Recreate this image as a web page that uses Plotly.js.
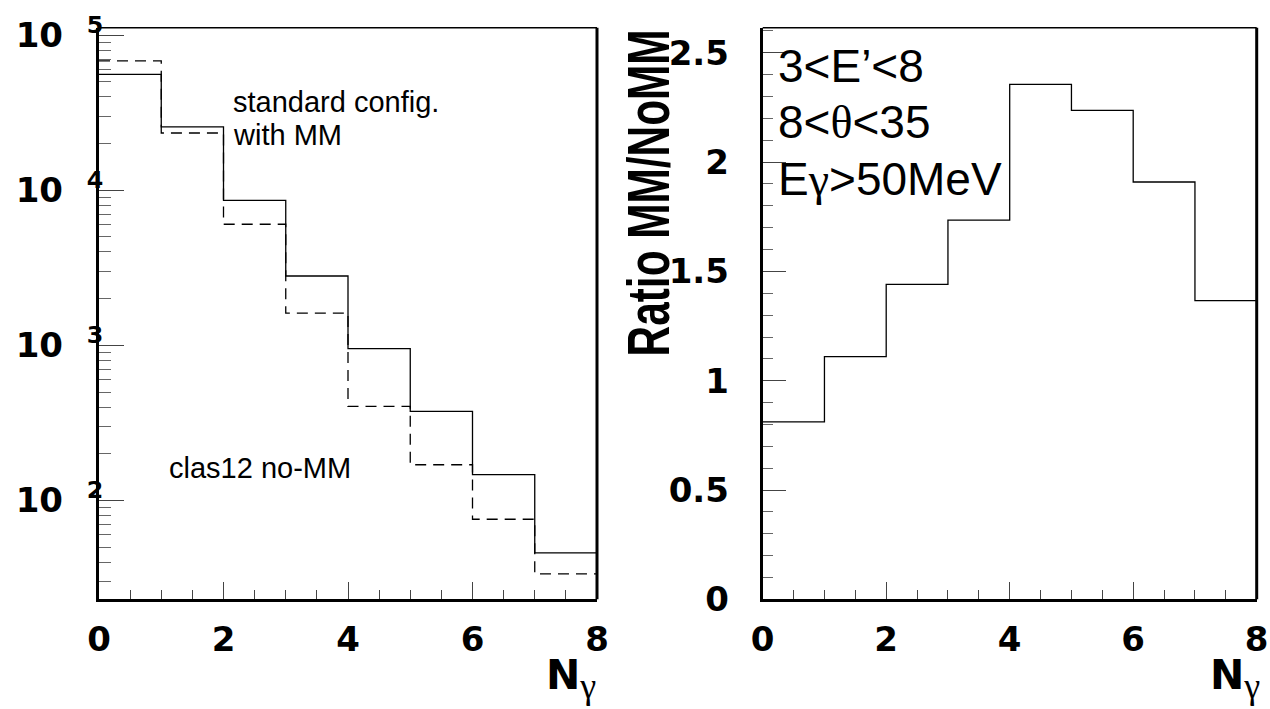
<!DOCTYPE html>
<html>
<head>
<meta charset="utf-8">
<script src="https://cdn.plot.ly/plotly-3.0.1.min.js"></script>
<style>
  html, body { margin: 0; padding: 0; background: #fff; }
  #plot { width: 1270px; height: 709px; }
</style>
</head>
<body>
<div id="plot"></div>
<script>
// Photon multiplicity bins (edges) and contents
const binEdges = [0, 1, 2, 3, 4, 5, 6, 7, 8];
const countsWithMM = [55800, 25600, 8610, 2800, 952, 375, 147, 45.9];
const countsNoMM = [68200, 23400, 6040, 1615, 404, 170, 75.7, 33.6];
const ratioMMNoMM = [0.812, 1.110, 1.441, 1.735, 2.356, 2.237, 1.909, 1.366];

// Log axis decade labels
const decadeVals = [1e2, 1e3, 1e4, 1e5];
const decadeExp = [2, 3, 4, 5];
const decadeText = decadeExp.map(e => '10&nbsp; <sup><b>' + e + '</b></sup>');

// Minor tick positions for the log axis: 2..9 within each decade
const minorLogTicks = [];
[1e1, 1e2, 1e3, 1e4].forEach(d => { for (let k = 2; k <= 9; k++) minorLogTicks.push(k * d); });

// histogram step helper: repeat the last content so the last bin is closed at the upper edge
function stepY(vals) { return vals.concat([vals[vals.length - 1]]); }

const W = 1270, H = 709;
const px = x => x / W;
const py = y => 1 - y / H;

const tickFont = { family: 'DejaVu Sans', size: 34, color: 'black', weight: 'bold' };
const textFont = { family: 'Liberation Sans, Arial, sans-serif', color: 'black' };
const serif = s => '<span style="font-family:\'Liberation Serif\', serif">' + s + '</span>';
const subGamma = '<sub><span style="font-family:\'Liberation Serif\', serif;font-weight:normal;font-size:36px">γ</span></sub>';

const traces = [
  {
    x: binEdges, y: stepY(countsNoMM), xaxis: 'x', yaxis: 'y',
    mode: 'lines', line: { shape: 'hv', color: 'black', width: 1.3, dash: '11px,7px' },
    name: 'clas12 no-MM', hoverinfo: 'skip'
  },
  {
    x: binEdges, y: stepY(countsWithMM), xaxis: 'x', yaxis: 'y',
    mode: 'lines', line: { shape: 'hv', color: 'black', width: 1.3 },
    name: 'standard config. with MM', hoverinfo: 'skip'
  },
  {
    x: binEdges, y: stepY(ratioMMNoMM), xaxis: 'x2', yaxis: 'y2',
    mode: 'lines', line: { shape: 'hv', color: 'black', width: 1.3 },
    name: 'Ratio MM/NoMM', hoverinfo: 'skip'
  }
];

const yTop = 27.7, yBot = 599.3;

function xAxis(domain, anchor) {
  return {
    domain: domain, anchor: anchor, range: [0, 8],
    showline: true, linewidth: 3, linecolor: 'black',
    showgrid: false, zeroline: false,
    tickmode: 'linear', tick0: 0, dtick: 2,
    ticks: 'inside', ticklen: 17, tickwidth: 1, tickcolor: '#444',
    minor: { ticks: 'inside', ticklen: 9, tickwidth: 1, tickcolor: '#444', tick0: 0, dtick: 0.5 },
    tickfont: tickFont, ticklabelstandoff: 8
  };
}

const layout = {
  width: W, height: H,
  margin: { l: 0, r: 0, t: 0, b: 0 },
  paper_bgcolor: 'white', plot_bgcolor: 'white',
  showlegend: false,
  xaxis: xAxis([px(99), px(597)], 'y'),
  xaxis2: xAxis([px(762.7), px(1256.7)], 'y2'),
  yaxis: {
    domain: [py(yBot), py(yTop)], anchor: 'x', type: 'log', range: [1.363, 5.048],
    showline: true, linewidth: 3, linecolor: 'black',
    showgrid: false, zeroline: false,
    tickmode: 'array', tickvals: decadeVals, ticktext: decadeText,
    ticks: 'inside', ticklen: 25, tickwidth: 1, tickcolor: '#444',
    minor: { ticks: 'inside', ticklen: 12, tickwidth: 1, tickcolor: '#666', tickmode: 'array', tickvals: minorLogTicks },
    tickfont: tickFont, ticklabelstandoff: -14
  },
  yaxis2: {
    domain: [py(yBot), py(yTop)], anchor: 'x2', range: [0, 2.615],
    showline: true, linewidth: 3, linecolor: 'black',
    showgrid: false, zeroline: false,
    tickmode: 'linear', tick0: 0, dtick: 0.5,
    ticks: 'inside', ticklen: 23, tickwidth: 1, tickcolor: '#444',
    minor: { ticks: 'inside', ticklen: 10, tickwidth: 1, tickcolor: '#666', tick0: 0, dtick: 0.1 },
    tickfont: tickFont, ticklabelstandoff: 24
  },
  shapes: [
    // remaining frame sides of each pad
    { type: 'line', xref: 'x domain', yref: 'y domain', x0: 0, x1: 1, y0: 1, y1: 1, line: { color: 'black', width: 1.5 } },
    { type: 'line', xref: 'x domain', yref: 'y domain', x0: 1, x1: 1, y0: 0, y1: 1, line: { color: 'black', width: 3 } },
    { type: 'line', xref: 'x2 domain', yref: 'y2 domain', x0: 0, x1: 1, y0: 1, y1: 1, line: { color: 'black', width: 1.5 } },
    { type: 'line', xref: 'x2 domain', yref: 'y2 domain', x0: 1, x1: 1, y0: 0, y1: 1, line: { color: 'black', width: 3 } }
  ],
  annotations: [
    { text: 'standard config.', xref: 'paper', yref: 'paper', x: px(231), y: py(102), xanchor: 'left', yanchor: 'middle', showarrow: false, font: Object.assign({ size: 29 }, textFont) },
    { text: 'with MM', xref: 'paper', yref: 'paper', x: px(231), y: py(135), xanchor: 'left', yanchor: 'middle', showarrow: false, font: Object.assign({ size: 29 }, textFont) },
    { text: 'clas12 no-MM', xref: 'paper', yref: 'paper', x: px(167), y: py(468), xanchor: 'left', yanchor: 'middle', showarrow: false, font: Object.assign({ size: 29 }, textFont) },
    { text: '3&lt;E’&lt;8', xref: 'paper', yref: 'paper', x: px(776), y: py(66), xanchor: 'left', yanchor: 'middle', showarrow: false, font: Object.assign({ size: 46 }, textFont) },
    { text: '8&lt;' + serif('θ') + '&lt;35', xref: 'paper', yref: 'paper', x: px(776), y: py(122), xanchor: 'left', yanchor: 'middle', showarrow: false, font: Object.assign({ size: 46 }, textFont) },
    { text: 'E' + serif('γ') + '&gt;50MeV', xref: 'paper', yref: 'paper', x: px(776), y: py(179), xanchor: 'left', yanchor: 'middle', showarrow: false, font: Object.assign({ size: 46 }, textFont) },
    { text: 'Ratio MM/NoMM', xref: 'paper', yref: 'paper', x: px(648), y: py(193.5), xanchor: 'center', yanchor: 'middle', textangle: -90, showarrow: false, font: { family: 'Liberation Sans, Arial, sans-serif', size: 60, color: 'black', weight: 'bold' } },
    { text: 'N' + subGamma, xref: 'paper', yref: 'paper', x: px(598), y: py(678), xanchor: 'right', yanchor: 'middle', showarrow: false, font: { family: 'DejaVu Sans', size: 41, color: 'black', weight: 'bold' } },
    { text: 'N' + subGamma, xref: 'paper', yref: 'paper', x: px(1262), y: py(678), xanchor: 'right', yanchor: 'middle', showarrow: false, font: { family: 'DejaVu Sans', size: 41, color: 'black', weight: 'bold' } }
  ]
};

Plotly.newPlot('plot', traces, layout, { staticPlot: true, displayModeBar: false }).then(gd => {
  // the ratio title is set in a condensed bold face: squeeze it along its baseline
  const t = gd.querySelector('.annotation[data-index="6"] text.annotation-text');
  if (t) {
    t.setAttribute('textLength', '327');
    t.setAttribute('lengthAdjust', 'spacingAndGlyphs');
  }
});
</script>
</body>
</html>
